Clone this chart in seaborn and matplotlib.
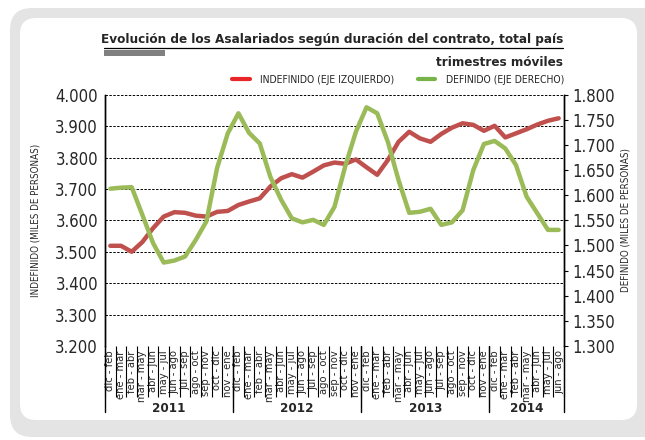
"""
Asalariados por duración del contrato: indefinido vs. definido (trimestres móviles).
"""

import matplotlib
matplotlib.use("Agg")
import matplotlib.pyplot as plt
import matplotlib.ticker as mticker
from matplotlib.lines import Line2D
from matplotlib.patches import FancyBboxPatch, Rectangle
import numpy as np
import pandas as pd
import seaborn as sns

sns.set_style("white")
FONT = ["DejaVu Sans"]
plt.rcParams["font.family"] = FONT
plt.rcParams["font.stretch"] = "condensed"

RED = "#c0504d"
GREEN = "#9bbb59"

# Daten
PERIODS = ["dic - feb", "ene - mar", "feb - abr", "mar - may", "abr - jun", "may - jul",
           "jun - ago", "jul - sep", "ago - oct", "sep - nov", "oct - dic", "nov - ene"]
YEARS = ["2011", "2012", "2013", "2014"]
YEAR_COUNTS = [12, 12, 12, 7]
tick_labels = PERIODS * 3 + PERIODS[:7]

indefinido = [3519, 3519, 3500, 3531, 3575, 3612, 3626, 3624, 3615, 3612, 3627, 3630,
              3649, 3660, 3670, 3708, 3734, 3747, 3736, 3755, 3775, 3784, 3780, 3794,
              3769, 3745, 3792, 3850, 3882, 3861, 3850, 3875, 3895, 3909, 3904, 3885,
              3901, 3864, 3877, 3890, 3905, 3917, 3925]
definido = [1613, 1615, 1616, 1561, 1505, 1466, 1470, 1478, 1511, 1548, 1654, 1723,
            1763, 1724, 1703, 1636, 1591, 1554, 1546, 1551, 1541, 1577, 1657, 1726,
            1775, 1763, 1706, 1630, 1565, 1567, 1573, 1541, 1546, 1570, 1650, 1702,
            1708, 1693, 1660, 1597, 1564, 1531, 1531]

df = pd.DataFrame({"periodo": tick_labels, "indefinido": indefinido, "definido": definido})
df["pos"] = np.arange(len(df)) + 0.5


def miles(x, _):
    return f"{x:,.0f}".replace(",", ".")


fig = plt.figure(figsize=(6.45, 4.40), dpi=100)

# grauer Rahmen mit runden Ecken
fig.patches.append(FancyBboxPatch((0.10, 0.03), 6.7, 4.29, boxstyle="round,pad=0,rounding_size=0.22",
                                  transform=fig.dpi_scale_trans, fc="#e4e4e4", ec="none", zorder=-2))
fig.patches.append(FancyBboxPatch((0.20, 0.20), 6.17, 4.02, boxstyle="round,pad=0,rounding_size=0.16",
                                  transform=fig.dpi_scale_trans, fc="white", ec="none", zorder=-1))

ax = fig.add_axes([105 / 645, 1 - 346 / 440, 459 / 645, 251.3 / 440])
ax.patch.set_alpha(0)
sns.lineplot(data=df, x="pos", y="indefinido", ax=ax, color=RED, lw=3.2, zorder=3)
ax2 = ax.twinx()
sns.lineplot(data=df, x="pos", y="definido", ax=ax2, color=GREEN, lw=3.2, zorder=3)

ax.set_xlim(0, len(df))
ax.set_ylim(3200, 4000)
ax2.set_ylim(1300, 1800)
ax.yaxis.set_major_locator(mticker.MultipleLocator(100))
ax2.yaxis.set_major_locator(mticker.MultipleLocator(50))
ax.yaxis.set_major_formatter(mticker.FuncFormatter(miles))
ax2.yaxis.set_major_formatter(mticker.FuncFormatter(miles))
ax.grid(axis="y", color="black", ls=(0, (2.5, 1.5)), lw=0.7)
ax.grid(axis="x", visible=False)

for a in (ax, ax2):
    a.spines["top"].set_visible(False)
    a.spines["bottom"].set_visible(False)
    a.spines["left"].set_color("black")
    a.spines["right"].set_color("black")
    a.spines["left"].set_linewidth(1.0)
    a.spines["right"].set_linewidth(1.0)

ax.tick_params(axis="y", length=0, pad=5, labelsize=12)
ax2.tick_params(axis="y", right=True, length=3, width=0.8, color="black", pad=3, labelsize=12)

# Periodenbeschriftung mit Trennstrichen
ax.set_xticks(df["pos"], tick_labels, rotation=90, fontsize=8)
ax.set_xticks(np.arange(len(df) + 1), minor=True)
ax.tick_params(axis="x", which="major", length=0, pad=3)
ax.tick_params(axis="x", which="minor", bottom=True, length=37, width=0.8, color="black")
ax.set_xlabel("")
ax.set_ylabel("INDEFINIDO (MILES DE PERSONAS)", fontsize=7, labelpad=11)
ax2.set_ylabel("DEFINIDO (MILES DE PERSONAS)", fontsize=7, labelpad=4)

# Jahre
bounds = np.concatenate([[0], np.cumsum(YEAR_COUNTS)])
trans = ax.get_xaxis_transform()
for b in bounds:
    ax.plot([b, b], [0, -0.263], color="black", lw=1.0, transform=trans, clip_on=False)
for year, lo, hi in zip(YEARS, bounds[:-1], bounds[1:]):
    ax.text((lo + hi) / 2, -0.25, year, transform=trans, ha="center", va="center",
            fontsize=9.5, fontweight="bold")

# Titel
fig.text(563 / 645, 1 - 39 / 440, "Evolución de los Asalariados según duración del contrato, total país",
         ha="right", va="center", fontsize=9.6, fontweight="bold")
fig.text(563 / 645, 1 - 62 / 440, "trimestres móviles", ha="right", va="center",
         fontsize=9.6, fontweight="bold")
fig.add_artist(Line2D([104 / 645, 563 / 645], [1 - 48.5 / 440] * 2, color="black", lw=0.9))
fig.add_artist(Rectangle((104 / 645, 1 - 56 / 440), 61 / 645, 6 / 440, color="#808080", lw=0))

handles = [Line2D([], [], color="#e8262a", lw=3), Line2D([], [], color="#77b347", lw=3)]
fig.legend(handles, ["INDEFINIDO (EJE IZQUIERDO)", "DEFINIDO (EJE DERECHO)"],
           loc="center right", bbox_to_anchor=(564 / 645, 1 - 80 / 440), ncol=2, frameon=False,
           fontsize=7.5, handlelength=1.7, handletextpad=1.0, columnspacing=2.2,
           borderpad=0, borderaxespad=0)

fig.savefig("out.png", dpi=100)
